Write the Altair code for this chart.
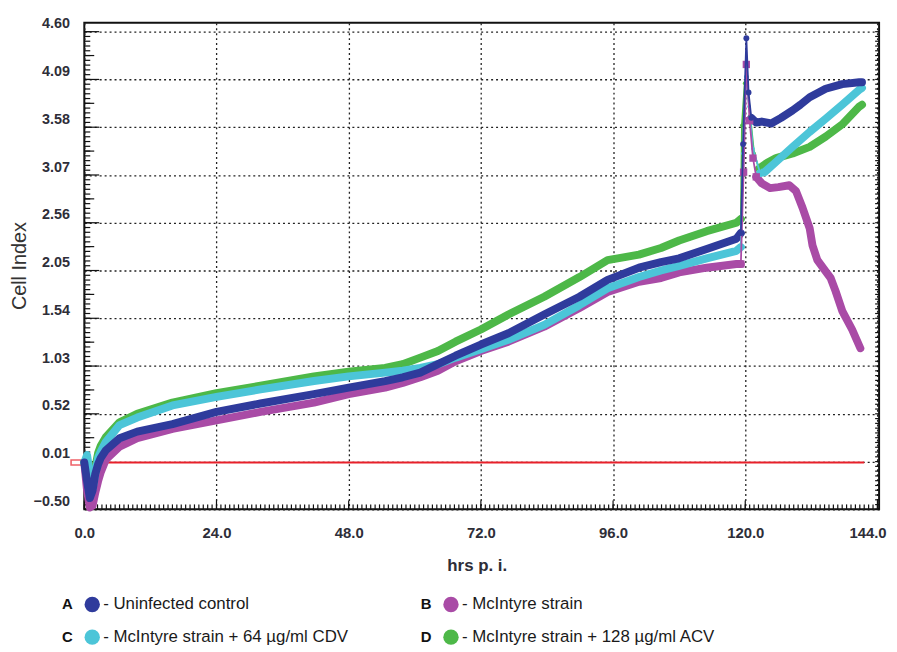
import altair as alt
import pandas as pd

# ---------------- data ----------------
PRE_HRS = [0, 0.5, 1.0, 1.5, 2.0, 2.5, 3.0, 3.9, 6.4, 9.6, 16, 24, 32, 41.7, 48,
           54.6, 57.8, 61, 64.2, 67.4, 72, 77, 83.5, 89.9, 95, 100.7, 104.7, 108,
           113, 118.4, 119.2]
A_PRE = [0.0, -0.20, -0.38, -0.30, -0.12, -0.02, 0.05, 0.13, 0.26, 0.33, 0.41, 0.54,
         0.63, 0.73, 0.80, 0.87, 0.91, 0.96, 1.05, 1.14, 1.26, 1.38, 1.58, 1.77, 1.95,
         2.08, 2.14, 2.18, 2.28, 2.39, 2.45]
B_PRE = [0.0, -0.30, -0.48, -0.46, -0.32, -0.20, -0.10, 0.03, 0.17, 0.26, 0.36, 0.45,
         0.54, 0.64, 0.73, 0.80, 0.85, 0.91, 0.98, 1.08, 1.19, 1.29, 1.45, 1.65, 1.82,
         1.93, 1.97, 2.03, 2.08, 2.12, 2.12]
C_PRE = [0.0, 0.08, -0.12, -0.28, -0.12, 0.05, 0.12, 0.22, 0.40, 0.48, 0.61, 0.70,
         0.78, 0.87, 0.92, 0.96, 0.98, 1.01, 1.05, 1.12, 1.21, 1.31, 1.47, 1.68, 1.86,
         1.98, 2.05, 2.10, 2.18, 2.26, 2.30]
D_PRE = [0.0, -0.10, -0.20, -0.25, -0.05, 0.10, 0.18, 0.27, 0.43, 0.52, 0.64, 0.74,
         0.82, 0.92, 0.97, 1.01, 1.05, 1.12, 1.19, 1.29, 1.42, 1.58, 1.77, 1.98, 2.16,
         2.22, 2.29, 2.37, 2.47, 2.56, 2.60]

A_SPK_H = [119.2, 119.6, 120.2, 120.6, 121.1]
A_SPK_V = [2.45, 3.40, 4.53, 3.95, 3.68]
B_SPK_H = [119.2, 119.7, 120.2, 120.8, 121.4, 122.0]
B_SPK_V = [2.12, 3.10, 4.25, 3.65, 3.25, 3.05]
C_SPK_H = [119.2, 119.6, 120.1, 120.7, 121.4, 122.7]
C_SPK_V = [2.30, 3.30, 4.12, 3.80, 3.35, 3.09]
D_SPK_H = [119.2, 119.4, 119.9, 120.3, 120.9, 121.6, 122.5]
D_SPK_V = [2.60, 3.60, 4.05, 4.12, 3.70, 3.30, 3.14]

A_POST_H = [121.1, 122, 123, 124.7, 126.5, 128.6, 130, 131.7, 134.6, 137.6, 140.7, 141.2]
A_POST_V = [3.68, 3.63, 3.64, 3.62, 3.68, 3.76, 3.82, 3.90, 3.99, 4.04, 4.06, 4.06]
B_POST_H = [122.0, 123, 124.5, 126, 128, 129.2, 130.4, 131.7, 132.2, 133.1, 134.6,
            135.5, 136.4, 137.6, 139.4, 140.9]
B_POST_V = [3.05, 2.98, 2.93, 2.94, 2.96, 2.90, 2.72, 2.50, 2.32, 2.16, 2.04, 1.97,
            1.83, 1.62, 1.42, 1.22]
C_POST_H = [122.7, 123.5, 125.6, 128.6, 131.7, 134.6, 137.6, 140.7, 141.2]
C_POST_V = [3.09, 3.10, 3.21, 3.37, 3.53, 3.67, 3.82, 3.98, 4.00]
D_POST_H = [122.5, 124, 125.6, 128.6, 131.7, 134.6, 137.6, 140.7, 141.2]
D_POST_V = [3.14, 3.20, 3.25, 3.30, 3.37, 3.48, 3.61, 3.80, 3.82]

ZERO_H = [0, 141.6]
ZERO_V = [0, 0]
ZERO_MARK_H = [-1.3]
ZERO_MARK_V = [0]

X_TICKS = [0, 24, 48, 72, 96, 120, 144]
Y_TICKS = [-0.50, 0.01, 0.52, 1.03, 1.54, 2.05, 2.56, 3.07, 3.58, 4.09, 4.60]
X_DOMAIN = [0, 144.3]
Y_DOMAIN = [-0.5, 4.695]

KEYS = ["A", "B", "C", "D"]
LABELS = ["- Uninfected control", "- McIntyre strain",
          "- McIntyre strain + 64 \u00b5g/ml CDV", "- McIntyre strain + 128 \u00b5g/ml ACV"]
COLORS = {"A": "#2F3B9C", "B": "#A94BA6", "C": "#4CC5D8", "D": "#4DB848"}

# inner tick positions (minor ticks of the instrument's axes)
Y_MINOR = [round(-0.5 + 0.051 * i, 3) for i in range(101)]
Y_MID = [round(-0.5 + 0.051 * (10 * k + 5), 3) for k in range(10)]
X_MINOR = [round(0.8 * i, 2) for i in range(181)]

FONT = "Liberation Sans"
TXT = "#2e2e38"
W, H = 802, 491

PRE = {"A": A_PRE, "B": B_PRE, "C": C_PRE, "D": D_PRE}
SPK = {"A": (A_SPK_H, A_SPK_V), "B": (B_SPK_H, B_SPK_V),
       "C": (C_SPK_H, C_SPK_V), "D": (D_SPK_H, D_SPK_V)}
POST = {"A": (A_POST_H, A_POST_V), "B": (B_POST_H, B_POST_V),
        "C": (C_POST_H, C_POST_V), "D": (D_POST_H, D_POST_V)}

XS = alt.Scale(domain=X_DOMAIN, nice=False, zero=False)
YS = alt.Scale(domain=Y_DOMAIN, nice=False, zero=False)

# ---------------- axes ----------------
AX_X_MAIN = alt.Axis(orient="bottom", values=X_TICKS, format=".1f", grid=True,
                     gridDash=[2, 3], gridColor="#222", gridWidth=1.3,
                     ticks=False, domain=False, labelFlush=False,
                     labelFont=FONT, labelFontSize=15, labelFontWeight="bold",
                     labelColor=TXT, labelPadding=16,
                     labelOffset={"condition": {"test": "datum.value >= 144", "value": -10},
                                  "value": 0},
                     titleFont=FONT, titleFontSize=17, titleFontWeight="bold",
                     titleColor=TXT, titleX=396, titleY=57, titleBaseline="middle")
AX_Y_MAIN = alt.Axis(orient="left", values=Y_TICKS, format=".2f", grid=True,
                     gridDash=[2, 3], gridColor="#222", gridWidth=1.3,
                     ticks=False, domain=False,
                     labelFont=FONT, labelFontSize=14.5, labelFontWeight="bold",
                     labelColor=TXT, labelPadding=15, labelOffset=-8,
                     titleFont=FONT, titleFontSize=20, titleFontWeight="normal",
                     titleColor="#333", titleX=-65, titleY=245, titleAlign="center",
                     titleBaseline="middle")


def xe(axis=None, title=""):
    return alt.X("h:Q", scale=XS, axis=axis, title=title)


def ye(axis=None, title=""):
    return alt.Y("v:Q", scale=YS, axis=axis, title=title)


layers = []

# red baseline
zero_df = pd.DataFrame({"h": ZERO_H, "v": ZERO_V})
layers.append(alt.Chart(zero_df).mark_line(color="#E8202A", strokeWidth=2.2).encode(
    x=xe(AX_X_MAIN, "hrs p. i."), y=ye(AX_Y_MAIN, "Cell Index")))
zm_df = pd.DataFrame({"h": ZERO_MARK_H, "v": ZERO_MARK_V})
layers.append(alt.Chart(zm_df).mark_point(
    shape="M-1,-0.42L1,-0.42L1,0.42L-1,0.42Z", filled=False, color="#E8202A",
    size=150, strokeWidth=1.6).encode(x=xe(), y=ye()))

# inner tick marks along the frame
def ytick_layer(values, size, xc):
    df = pd.DataFrame({"v": values})
    return alt.Chart(df).mark_tick(orient="horizontal", size=size, thickness=1.2,
                                   color="#111", opacity=1).encode(
        y=ye(), x=alt.value(xc))


def xtick_layer(values, size, yc):
    df = pd.DataFrame({"h": values})
    return alt.Chart(df).mark_tick(orient="vertical", size=size, thickness=1.2,
                                   color="#111", opacity=1).encode(
        x=xe(), y=alt.value(yc))


layers.append(ytick_layer(Y_TICKS, 15, 7.5))
layers.append(ytick_layer(Y_MID, 10, 5))
layers.append(ytick_layer(Y_MINOR, 6, 3))
layers.append(ytick_layer(Y_MINOR, 4, W - 2))
layers.append(xtick_layer(X_TICKS, 9, H - 4.5))
layers.append(xtick_layer(X_MINOR, 5, H - 2.5))

# thick bands (before and after the medium change)
for k in ["B", "D", "C", "A"]:
    pre_df = pd.DataFrame({"h": PRE_HRS, "v": PRE[k]})
    post_df = pd.DataFrame({"h": POST[k][0], "v": POST[k][1]})
    for d in (pre_df, post_df):
        layers.append(alt.Chart(d).mark_line(
            color=COLORS[k], strokeWidth=8, strokeCap="round",
            strokeJoin="round").encode(x=xe(), y=ye()))

# thin spike segments with markers
marker = {"A": ("circle", 35), "B": ("square", 55), "C": ("circle", 14), "D": ("circle", 14)}
for k in ["D", "C", "B", "A"]:
    sdf = pd.DataFrame({"h": SPK[k][0], "v": SPK[k][1]})
    layers.append(alt.Chart(sdf).mark_line(color=COLORS[k], strokeWidth=1.8).encode(
        x=xe(), y=ye()))
    layers.append(alt.Chart(sdf).mark_point(
        color=COLORS[k], filled=True, opacity=1, shape=marker[k][0],
        size=marker[k][1]).encode(x=xe(), y=ye()))

# legend (two rows, two columns) placed below the plot
col_x = [8, 370, 8, 370]
row_y = [587, 587, 620, 620]
for i, k in enumerate(KEYS):
    ldf = pd.DataFrame({"letter": [k], "label": [LABELS[i]]})
    base = alt.Chart(ldf)
    layers.append(base.mark_text(font=FONT, fontSize=15, fontWeight="bold",
                                 color="#111", align="center", baseline="middle").encode(
        text="letter:N", x=alt.value(col_x[i] - 25), y=alt.value(row_y[i])))
    layers.append(base.mark_point(shape="circle", filled=True, opacity=1,
                                  color=COLORS[k], size=240).encode(
        x=alt.value(col_x[i]), y=alt.value(row_y[i])))
    layers.append(base.mark_text(font=FONT, fontSize=17, color="#1a1a1a",
                                 align="left", baseline="middle").encode(
        text="label:N", x=alt.value(col_x[i] + 11), y=alt.value(row_y[i])))

chart = alt.layer(*layers).resolve_axis(x="independent", y="independent").properties(
    width=W, height=H,
    padding={"left": 77, "top": 12, "right": 10, "bottom": 137},
    autosize=alt.AutoSizeParams(type="none"),
).configure_view(stroke="#111", strokeWidth=2)

chart.save("out.html", embed_options={"renderer": "svg", "actions": False})
